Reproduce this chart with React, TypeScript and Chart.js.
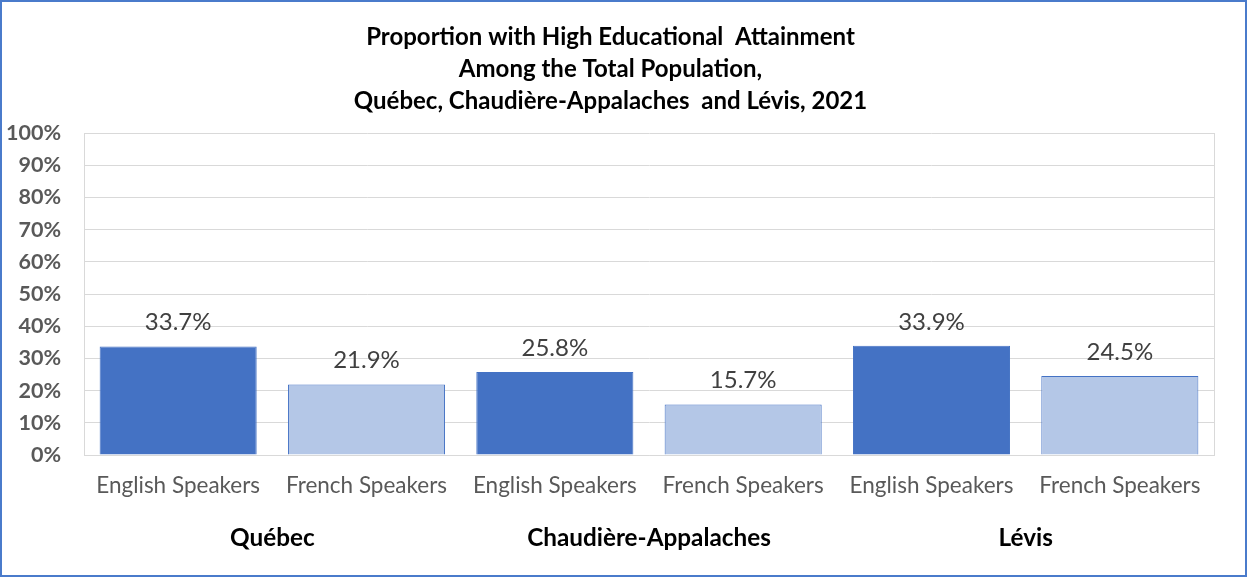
import React, { useEffect, useRef } from "react";
import { Chart, registerables } from "chart.js";

Chart.register(...registerables);

const titleLines = [
  "Proportion with High Educational  Attainment",
  "Among the Total Population,",
  "Québec, Chaudière-Appalaches  and Lévis, 2021",
];
const regions = ["Québec", "Chaudière-Appalaches", "Lévis"];
const speakerLabels = [
  "English Speakers",
  "French Speakers",
  "English Speakers",
  "French Speakers",
  "English Speakers",
  "French Speakers",
];
const values = [33.7, 21.9, 25.8, 15.7, 33.9, 24.5];
const yTicks = [0, 10, 20, 30, 40, 50, 60, 70, 80, 90, 100];

const DARK = "#4472C4";
const LIGHT = "#B4C7E7";
const FONT = "Lato, 'Open Sans', sans-serif";

export default function App() {
  const ref = useRef<HTMLCanvasElement | null>(null);

  useEffect(() => {
    document.body.style.margin = "0";
    const canvas = ref.current;
    if (!canvas) return;

    const overlay = {
      id: "overlay",
      afterDatasetsDraw(chart: any) {
        const { ctx, chartArea } = chart;
        const x = chart.scales.x;
        ctx.save();
        // right border of plot area
        ctx.strokeStyle = "#D9D9D9";
        ctx.lineWidth = 1;
        ctx.beginPath();
        ctx.moveTo(Math.round(chartArea.right) + 0.5, chartArea.top);
        ctx.lineTo(Math.round(chartArea.right) + 0.5, chartArea.bottom);
        ctx.stroke();
        // data labels
        const meta = chart.getDatasetMeta(0);
        ctx.fillStyle = "#404040";
        ctx.font = `24px ${FONT}`;
        ctx.textAlign = "center";
        ctx.textBaseline = "middle";
        meta.data.forEach((bar: any, i: number) => {
          ctx.fillText(values[i].toFixed(1) + "%", bar.x, bar.y - 24);
        });
        // group labels
        ctx.fillStyle = "#000000";
        ctx.font = `bold 24.3px ${FONT}`;
        regions.forEach((r, i) => {
          const cx = (x.getPixelForValue(2 * i) + x.getPixelForValue(2 * i + 1)) / 2;
          ctx.fillText(r, cx, 536);
        });
        ctx.restore();
      },
    };

    const chart = new Chart(canvas, {
      type: "bar",
      data: {
        labels: speakerLabels,
        datasets: [
          {
            data: values,
            backgroundColor: values.map((_, i) => (i % 2 === 0 ? DARK : LIGHT)),
            borderColor: DARK,
            borderWidth: 1,
            barPercentage: 0.834,
            categoryPercentage: 1,
          },
        ],
      },
      options: {
        animation: false,
        responsive: false,
        layout: { padding: { left: 5, right: 31, top: 0, bottom: 67 } },
        plugins: {
          legend: { display: false },
          tooltip: { enabled: false },
          title: {
            display: true,
            text: titleLines,
            color: "#000000",
            font: { family: FONT, size: 24, weight: "bold", lineHeight: 32 / 24 },
            padding: { top: 19, bottom: 16 },
          },
        },
        scales: {
          x: {
            grid: { display: false },
            border: { display: true, color: "#D9D9D9" },
            afterFit: (axis: any) => {
              axis.paddingLeft = 0;
              axis.paddingRight = 0;
            },
            ticks: {
              color: "#595959",
              font: { family: FONT, size: 22.5 },
              padding: 9,
              maxRotation: 0,
              autoSkip: false,
            },
          },
          y: {
            min: 0,
            max: 100,
            afterBuildTicks: (axis: any) => {
              axis.ticks = yTicks.map((v) => ({ value: v }));
            },
            afterFit: (axis: any) => {
              axis.width = 77;
            },
            grid: { color: "#D9D9D9", drawTicks: false },
            border: { display: true, color: "#D9D9D9" },
            ticks: {
              color: "#595959",
              font: { family: FONT, size: 21.5, weight: "bold" },
              padding: 23,
              callback: (v: any) => v + "%",
            },
          },
        },
      },
      plugins: [overlay],
    });
    return () => chart.destroy();
  }, []);

  return (
    <div
      style={{
        position: "absolute",
        left: 0,
        top: 0,
        width: 1247,
        height: 577,
        boxSizing: "border-box",
        border: "2px solid #4A7BCB",
        background: "#fff",
      }}
    >
      <canvas ref={ref} width={1243} height={573} style={{ display: "block" }} />
    </div>
  );
}
